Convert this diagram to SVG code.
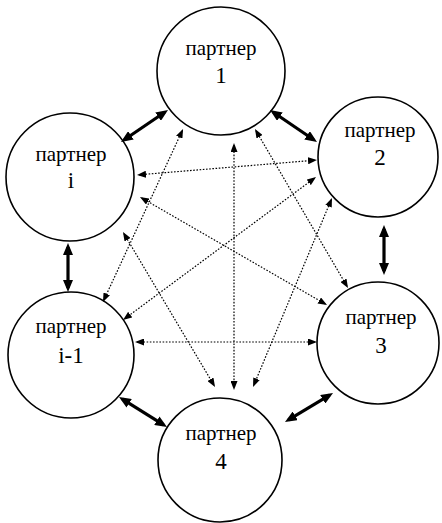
<svg xmlns="http://www.w3.org/2000/svg" width="442" height="523" viewBox="0 0 442 523">
<style>
.node circle{fill:#fff;stroke:#000;stroke-width:1.6}
.node text{font-family:"Liberation Serif","Times New Roman",serif;font-size:21px;fill:#000;text-anchor:middle}
.node text.num{font-size:23px}
.thick{stroke:#000;stroke-width:3.2;fill:none;marker-start:url(#ah);marker-end:url(#ah)}
.dot{stroke:#000;stroke-width:1.2;stroke-dasharray:1.6 1.6;fill:none;marker-start:url(#ad);marker-end:url(#ad)}
</style>
<defs>
<marker id="ah" viewBox="0 0 12 10" refX="8" refY="5" markerWidth="12" markerHeight="10" markerUnits="userSpaceOnUse" orient="auto-start-reverse"><path d="M0,0 L12,5 L0,10 z" fill="#000"/></marker>
<marker id="ad" viewBox="0 0 9 7" refX="7" refY="3.5" markerWidth="9" markerHeight="7" markerUnits="userSpaceOnUse" orient="auto-start-reverse"><path d="M0,0 L9,3.5 L0,7 z" fill="#000"/></marker>
</defs>
<g id="n1" class="node"><circle cx="221" cy="71" r="64"/><text x="221" y="55">партнер</text><text class="num" x="221" y="83">1</text></g>
<g id="n2" class="node"><circle cx="378" cy="157" r="60"/><text x="380" y="137">партнер</text><text class="num" x="380" y="165">2</text></g>
<g id="ni" class="node"><circle cx="70" cy="177" r="64"/><text x="71" y="161">партнер</text><text class="num" x="71" y="188">i</text></g>
<g id="ni1" class="node"><circle cx="71" cy="355" r="63"/><text x="71" y="333">партнер</text><text class="num" x="71" y="363">i-1</text></g>
<g id="n3" class="node"><circle cx="378" cy="343" r="61"/><text x="381" y="324">партнер</text><text class="num" x="381" y="353">3</text></g>
<g id="n4" class="node"><circle cx="220" cy="460" r="62"/><text x="221" y="440">партнер</text><text class="num" x="221" y="469">4</text></g>
<g id="connectors">
<line class="thick" x1="124.3" y1="139.8" x2="164.7" y2="112.2"/>
<line class="thick" x1="273.3" y1="112.2" x2="313.7" y2="139.8"/>
<line class="thick" x1="68" y1="247" x2="68" y2="288"/>
<line class="thick" x1="384" y1="229" x2="384" y2="271"/>
<line class="thick" x1="122.4" y1="399.1" x2="163.6" y2="424.9"/>
<line class="thick" x1="288.4" y1="419.9" x2="329.6" y2="395.1"/>
<line class="dot" x1="139" y1="174.8" x2="315" y2="160.2"/>
<line class="dot" x1="137" y1="342" x2="315" y2="342"/>
<line class="dot" x1="234" y1="145" x2="234" y2="388"/>
<line class="dot" x1="182.2" y1="130.8" x2="103.8" y2="300.2"/>
<line class="dot" x1="256" y1="130.7" x2="347" y2="286.3"/>
<line class="dot" x1="141.7" y1="198" x2="325.3" y2="304"/>
<line class="dot" x1="314.4" y1="178.2" x2="124.6" y2="318.8"/>
<line class="dot" x1="331.2" y1="199.8" x2="253.8" y2="385.2"/>
<line class="dot" x1="124" y1="233.7" x2="214" y2="385.3"/>
</g>
</svg>
